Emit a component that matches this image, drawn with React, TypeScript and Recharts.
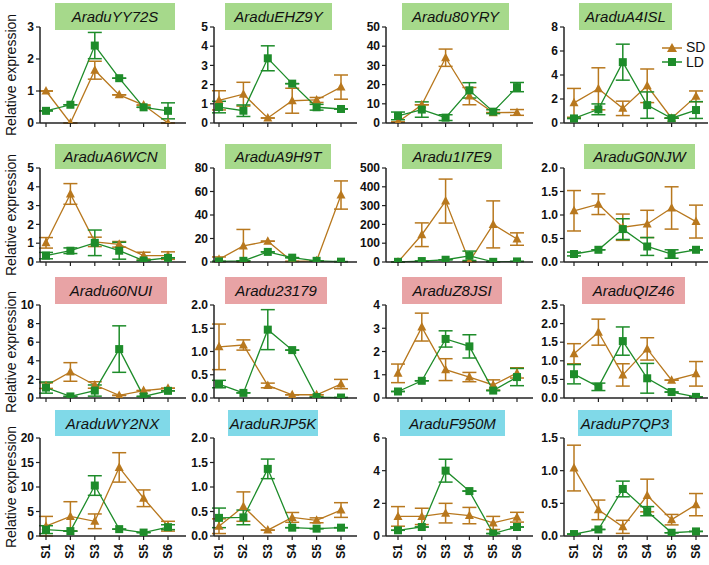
import React from 'react';
import { LineChart, Line, XAxis, YAxis, ErrorBar } from 'recharts';

const stages = ['S1', 'S2', 'S3', 'S4', 'S5', 'S6'];

const geneNames = [
  'AraduYY72S', 'AraduEHZ9Y', 'Aradu80YRY', 'AraduA4ISL',
  'AraduA6WCN', 'AraduA9H9T', 'Aradu1I7E9', 'AraduG0NJW',
  'Aradu60NUI', 'Aradu23179', 'AraduZ8JSI', 'AraduQIZ46',
  'AraduWY2NX', 'AraduRJP5K', 'AraduF950M', 'AraduP7QP3',
];

const groupOfGene = [
  'g', 'g', 'g', 'g',
  'g', 'g', 'g', 'g',
  'r', 'r', 'r', 'r',
  'c', 'c', 'c', 'c',
];

const yTicks = [
  [0, 1, 2, 3], [0, 1, 2, 3, 4, 5], [0, 10, 20, 30, 40, 50], [0, 2, 4, 6, 8],
  [0, 1, 2, 3, 4, 5], [0, 20, 40, 60, 80], [0, 100, 200, 300, 400, 500], [0, 0.5, 1, 1.5, 2],
  [0, 2, 4, 6, 8, 10], [0, 0.5, 1, 1.5, 2], [0, 1, 2, 3, 4], [0, 0.5, 1, 1.5, 2, 2.5],
  [0, 5, 10, 15, 20], [0, 0.5, 1, 1.5, 2], [0, 2, 4, 6], [0, 0.5, 1, 1.5],
];

const sdMeans = [
  [1.0, 0.0, 1.65, 0.88, 0.56, 0.0],
  [1.18, 1.5, 0.26, 1.16, 1.2, 1.87],
  [0.5, 9.5, 34, 14, 5.4, 5.5],
  [1.68, 2.85, 1.22, 3.1, 0.4, 2.22],
  [1.02, 3.62, 1.07, 0.94, 0.34, 0.34],
  [2.3, 13.7, 17.7, 0.5, 1.0, 57],
  [0, 145, 324, 2, 200, 122],
  [1.09, 1.23, 0.74, 0.81, 1.15, 0.86],
  [1.33, 2.8, 1.4, 0.28, 0.8, 1.05],
  [1.1, 1.14, 0.27, 0.07, 0.07, 0.3],
  [1.06, 3.05, 1.22, 0.9, 0.56, 1.08],
  [1.19, 1.77, 0.62, 1.32, 0.48, 0.65],
  [2.0, 4.0, 3.0, 14, 7.7, 2.0],
  [0.2, 0.6, 0.12, 0.38, 0.32, 0.53],
  [1.2, 1.2, 1.4, 1.25, 0.8, 1.15],
  [1.04, 0.4, 0.14, 0.62, 0.25, 0.48],
];

const sdErrs = [
  [0, 0, 0.28, 0, 0, 0],
  [0.5, 0.62, 0, 0.65, 0.13, 0.63],
  [0, 0, 4.5, 4.5, 0, 1.5],
  [1.2, 1.75, 0.6, 1.4, 0, 0.45],
  [0.28, 0.55, 0.25, 0.15, 0.18, 0.2],
  [2, 14, 0, 0, 0, 12],
  [0, 63, 117, 0, 125, 33],
  [0.43, 0.22, 0.28, 0.29, 0.45, 0.35],
  [0.3, 1.0, 0.35, 0, 0, 0],
  [0.49, 0.11, 0.05, 0, 0, 0.1],
  [0.4, 0.6, 0.47, 0.2, 0.22, 0.22],
  [0.27, 0.35, 0.3, 0.3, 0, 0.33],
  [2, 3, 1.5, 3, 1.7, 1],
  [0.15, 0.3, 0, 0.1, 0.05, 0.15],
  [0.6, 0.5, 0.6, 0.5, 0.4, 0.3],
  [0.35, 0.15, 0.1, 0.25, 0.08, 0.17],
];

const ldMeans = [
  [0.38, 0.57, 2.42, 1.4, 0.49, 0.38],
  [0.83, 0.64, 3.37, 2.05, 0.82, 0.73],
  [3.7, 7, 2.8, 17, 5.9, 18.7],
  [0.38, 1.14, 5.07, 1.49, 0.4, 1.08],
  [0.34, 0.6, 1.02, 0.6, 0.08, 0.22],
  [0.5, 1.0, 8.6, 3.7, 1.0, 0.3],
  [1, 5, 12, 33, 1, 3],
  [0.17, 0.26, 0.7, 0.33, 0.17, 0.26],
  [1.12, 0.17, 0.8, 5.26, 0.17, 0.77],
  [0.3, 0.11, 1.47, 1.03, 0.02, 0.01],
  [0.28, 0.74, 2.54, 2.22, 0.32, 0.9],
  [0.64, 0.3, 1.53, 0.53, 0.16, 0.03],
  [1.3, 1.0, 10.3, 1.4, 0.7, 1.8],
  [0.37, 0.38, 1.37, 0.17, 0.15, 0.17],
  [0.35, 0.55, 4.0, 2.75, 0.15, 0.55],
  [0.03, 0.1, 0.72, 0.38, 0.05, 0.07],
];

const ldErrs = [
  [0, 0, 0.41, 0, 0, 0.25],
  [0.3, 0.3, 0.65, 0, 0.15, 0],
  [2, 4, 1.5, 4, 1, 2.4],
  [0, 0.45, 1.5, 1.1, 0, 0.7],
  [0.17, 0.15, 0.68, 0.45, 0, 0],
  [0, 0, 0, 0, 0, 0],
  [0, 0, 0, 25, 0, 0],
  [0.04, 0, 0.22, 0.19, 0.09, 0],
  [0.6, 0, 0.6, 2.5, 0, 0],
  [0.08, 0, 0.43, 0, 0, 0],
  [0, 0, 0.35, 0.5, 0, 0.37],
  [0.26, 0.1, 0.38, 0.4, 0, 0],
  [0.8, 0, 2, 0, 0, 0.5],
  [0.2, 0.15, 0.2, 0, 0, 0],
  [0, 0, 0.7, 0, 0, 0],
  [0, 0, 0.12, 0.07, 0, 0],
];

const SD_COLOR = '#b8781e';
const LD_COLOR = '#1e8c2a';
const BOX_COLORS: Record<string, string> = { g: '#a6d98b', r: '#e8a3a5', c: '#80d9e8' };
const FONT = '"Liberation Sans", Arial, sans-serif';

const cols = [
  { axisX: 40, first: 46, last: 168, right: 186 },
  { axisX: 214, first: 219, last: 341, right: 357 },
  { axisX: 386, first: 398, last: 517, right: 533 },
  { axisX: 564, first: 574, last: 696, right: 708 },
];
const rows = [
  { top: 27, zero: 123, boxTop: 3, boxH: 27 },
  { top: 168, zero: 262, boxTop: 144, boxH: 25 },
  { top: 305, zero: 398, boxTop: 277, boxH: 27 },
  { top: 438, zero: 536, boxTop: 410, boxH: 26 },
];
const boxes = [
  [55, 120], [225, 107], [402, 107], [579, 93],
  [55, 111], [225, 106], [402, 100], [584, 111],
  [55, 112], [225, 102], [402, 100], [582, 103],
  [55, 115], [228, 90], [400, 105], [578, 94],
];

const YW = 40;
const TOPM = 6;

const Triangle = (props: any) => {
  const { cx, cy } = props;
  if (cx == null || cy == null) return null;
  return <path d={`M${cx},${cy - 5} L${cx + 4.5},${cy + 3.5} L${cx - 4.5},${cy + 3.5} Z`} fill={SD_COLOR} />;
};
const Square = (props: any) => {
  const { cx, cy } = props;
  if (cx == null || cy == null) return null;
  return <rect x={cx - 4} y={cy - 4} width={8} height={8} fill={LD_COLOR} />;
};

const StageTick = (props: any) => {
  const { x, y, payload } = props;
  const yy = y + 2;
  return (
    <text x={x} y={yy} transform={`rotate(-90 ${x} ${yy})`} textAnchor="end" dominantBaseline="central"
      fontFamily={FONT} fontWeight="bold" fontSize={12} fill="#111">
      {payload.value}
    </text>
  );
};

function Panel({ idx }: { idx: number }) {
  const r = Math.floor(idx / 4);
  const c = idx % 4;
  const col = cols[c];
  const row = rows[r];
  const ticks = yTicks[idx];
  const max = ticks[ticks.length - 1];
  const decimal = ticks.some((t) => !Number.isInteger(t));
  const data = stages.map((s, i) => ({
    stage: s,
    sd: sdMeans[idx][i],
    sdErr: [Math.min(sdErrs[idx][i], sdMeans[idx][i]), sdErrs[idx][i]],
    ld: ldMeans[idx][i],
    ldErr: [Math.min(ldErrs[idx][i], ldMeans[idx][i]), ldErrs[idx][i]],
  }));
  const bottomRow = r === 3;
  const xh = bottomRow ? 28 : 6;
  const plotW = col.right - col.axisX;
  const plotH = row.zero - row.top;
  const width = YW + plotW;
  const height = TOPM + plotH + xh;
  const box = boxes[idx];
  return (
    <>
      <div style={{ position: 'absolute', left: col.axisX - YW, top: row.top - TOPM }}>
        <LineChart width={width} height={height} data={data} margin={{ top: TOPM, right: 0, bottom: 0, left: 0 }}>
          <XAxis
            dataKey="stage"
            padding={{ left: col.first - col.axisX, right: col.right - col.last }}
            axisLine={{ stroke: '#222', strokeWidth: 1.5 }}
            tickLine={{ stroke: '#222', strokeWidth: 1.2 }}
            tickSize={4}
            height={xh}
            interval={0}
            tick={bottomRow ? <StageTick /> : () => null}
          />
          <YAxis
            width={YW}
            domain={[0, max]}
            ticks={ticks}
            interval={0}
            allowDataOverflow
            axisLine={{ stroke: '#222', strokeWidth: 1.5 }}
            tickLine={{ stroke: '#222', strokeWidth: 1.2 }}
            tickSize={4}
            tickFormatter={(v: number) => (decimal ? v.toFixed(1) : String(v))}
            tick={{ fontFamily: FONT, fontWeight: 'bold', fontSize: 12, fill: '#111' }}
          />
          <Line dataKey="sd" stroke={SD_COLOR} strokeWidth={1.3} dot={<Triangle />} isAnimationActive={false}>
            <ErrorBar dataKey="sdErr" stroke={SD_COLOR} strokeWidth={1.5} width={7} />
          </Line>
          <Line dataKey="ld" stroke={LD_COLOR} strokeWidth={1.3} dot={<Square />} isAnimationActive={false}>
            <ErrorBar dataKey="ldErr" stroke={LD_COLOR} strokeWidth={1.5} width={7} />
          </Line>
        </LineChart>
      </div>
      <div
        style={{
          position: 'absolute', left: box[0], top: row.boxTop, width: box[1], height: row.boxH,
          background: BOX_COLORS[groupOfGene[idx]], display: 'flex', alignItems: 'center', justifyContent: 'center',
          fontFamily: FONT, fontStyle: 'italic', fontSize: 15, color: '#111',
        }}
      >
        {geneNames[idx]}
      </div>
    </>
  );
}

export default function App() {
  return (
    <div style={{ position: 'absolute', left: 0, top: 0, width: 709, height: 565, background: '#fff', overflow: 'hidden' }}>
      {rows.map((row, r) => (
        <div key={r} style={{
          position: 'absolute', left: 11, top: (row.top + row.zero) / 2, transform: 'translate(-50%, -50%) rotate(-90deg)',
          whiteSpace: 'nowrap', fontFamily: FONT, fontSize: 14, color: '#111',
        }}>Relative expression</div>
      ))}
      {geneNames.map((_, i) => <Panel key={i} idx={i} />)}
      <div style={{ position: 'absolute', left: 660, top: 40, fontFamily: FONT, fontSize: 14, color: '#111', lineHeight: '15px' }}>
        <div style={{ display: 'flex', alignItems: 'center', height: 15 }}>
          <svg width={24} height={15}>
            <line x1={2} y1={8} x2={22} y2={8} stroke={SD_COLOR} strokeWidth={1.5} />
            <path d="M12,3 L17,12 L7,12 Z" fill={SD_COLOR} />
          </svg>
          <span style={{ marginLeft: 2 }}>SD</span>
        </div>
        <div style={{ display: 'flex', alignItems: 'center', height: 15 }}>
          <svg width={24} height={15}>
            <line x1={2} y1={7} x2={22} y2={7} stroke={LD_COLOR} strokeWidth={1.5} />
            <rect x={8} y={3} width={8} height={8} fill={LD_COLOR} />
          </svg>
          <span style={{ marginLeft: 2 }}>LD</span>
        </div>
      </div>
    </div>
  );
}
